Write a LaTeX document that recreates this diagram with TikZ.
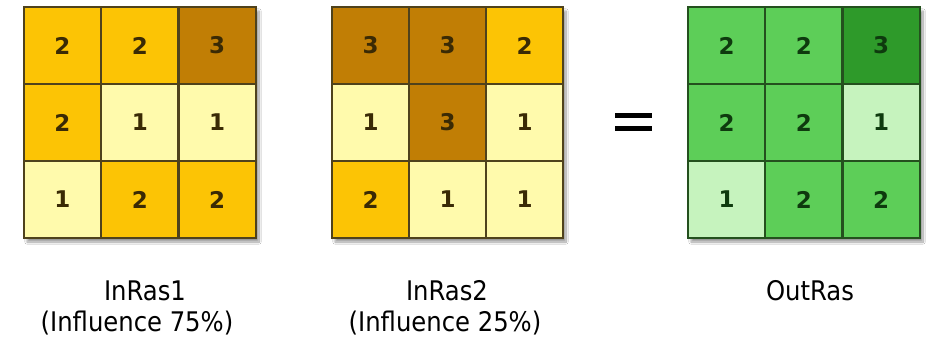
\documentclass[tikz,border=0pt]{standalone}
\usepackage{fontspec}
\setmainfont{DejaVu Sans}
\newfontfamily\condfont{DejaVu Sans Condensed}
\usetikzlibrary{shadows.blur}
\definecolor{yA}{HTML}{FFFAAC}
\definecolor{yB}{HTML}{FCC405}
\definecolor{yC}{HTML}{C17E05}
\definecolor{gA}{HTML}{C6F3BE}
\definecolor{gB}{HTML}{5DCE58}
\definecolor{gC}{HTML}{2E9A2A}
\definecolor{ylinec}{HTML}{4F421C}
\definecolor{glinec}{HTML}{24501E}
\definecolor{ytxt}{HTML}{3A2A05}
\definecolor{gtxt}{HTML}{0E3A0E}
\tikzset{
  cellbox/.style={draw=#1, line width=1.8pt, minimum width=77pt, minimum height=77pt, inner sep=0pt, font=\fontsize{23}{23}\selectfont\bfseries, anchor=center},
  gridshadow/.style={blur shadow={shadow xshift=3pt, shadow yshift=-4pt, shadow blur steps=10, shadow opacity=40}},
  lbl/.style={font=\condfont\fontsize{27}{27}\selectfont, text=black, anchor=center},
}
\begin{document}
\begin{tikzpicture}[x=1pt,y=-1pt]
\useasboundingbox[fill=white] (0,0) rectangle (941,340);
% shadows
\fill[white, gridshadow] (24,7) rectangle (256,238);
\fill[white, gridshadow] (332,7) rectangle (563,238);
\fill[white, gridshadow] (688,7) rectangle (920,238);
% grid 1
\foreach \r/\c/\v/\f in {0/0/2/yB,0/1/2/yB,0/2/3/yC,1/0/2/yB,1/1/1/yA,1/2/1/yA,2/0/1/yA,2/1/2/yB,2/2/2/yB}{
  \node[cellbox=ylinec, fill=\f, text=ytxt] (a\r\c) at ({24+38.5+77.3*\c},{7+38.5+77*\r}) {\v};
}
% grid 2
\foreach \r/\c/\v/\f in {0/0/3/yC,0/1/3/yC,0/2/2/yB,1/0/1/yA,1/1/3/yC,1/2/1/yA,2/0/2/yB,2/1/1/yA,2/2/1/yA}{
  \node[cellbox=ylinec, fill=\f, text=ytxt] (b\r\c) at ({332+38.5+77*\c},{7+38.5+77*\r}) {\v};
}
% grid 3
\foreach \r/\c/\v/\f in {0/0/2/gB,0/1/2/gB,0/2/3/gC,1/0/2/gB,1/1/2/gB,1/2/1/gA,2/0/1/gA,2/1/2/gB,2/2/2/gB}{
  \node[cellbox=glinec, fill=\f, text=gtxt] (c\r\c) at ({688+38.5+77.3*\c},{7+38.5+77*\r}) {\v};
}
% equals sign
\fill[black] (615,112.5) rectangle (652,117.5);
\fill[black] (615,125.5) rectangle (652,130.5);
% labels
\node[lbl] (l1a) at (145,291) {InRas1};
\node[lbl] (l1b) at (137,323) {(Influence 75\%)};
\node[lbl] (l2a) at (447,291) {InRas2};
\node[lbl] (l2b) at (445,323) {(Influence 25\%)};
\node[lbl] (l3a) at (810,291) {OutRas};
\end{tikzpicture}
\end{document}
